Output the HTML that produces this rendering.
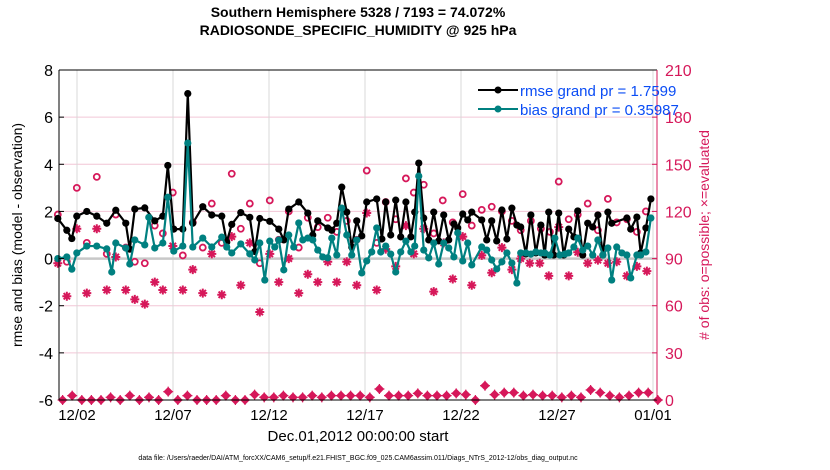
<!DOCTYPE html>
<html><head><meta charset="utf-8">
<style>
html,body{margin:0;padding:0;background:#fff;}
svg{display:block;font-family:"Liberation Sans",sans-serif;}
</style></head>
<body>
<svg id="chart" width="830" height="470" viewBox="0 0 830 470" xmlns="http://www.w3.org/2000/svg">
<text x="358" y="17" text-anchor="middle" font-size="14" font-weight="bold">Southern Hemisphere 5328 / 7193 = 74.072%</text>
<text x="358" y="35" text-anchor="middle" font-size="14" font-weight="bold">RADIOSONDE_SPECIFIC_HUMIDITY @ 925 hPa</text>
<g id="grid"></g>
<g id="marks"></g>
<g id="axes"></g>
<text transform="translate(22,235) rotate(-90)" text-anchor="middle" font-size="14">rmse and bias (model - observation)</text>
<text transform="translate(709,235) rotate(-90)" text-anchor="middle" font-size="14" fill="#d6185a">#  of obs: o=possible; ×=evaluated</text>
<text x="358" y="441" text-anchor="middle" font-size="15">Dec.01,2012 00:00:00 start</text>
<text x="358" y="460" text-anchor="middle" font-size="7">data file: /Users/raeder/DAI/ATM_forcXX/CAM6_setup/f.e21.FHIST_BGC.f09_025.CAM6assim.011/Diags_NTrS_2012-12/obs_diag_output.nc</text>
<g>
<line x1="478" y1="90" x2="518" y2="90" stroke="#000" stroke-width="2"/>
<circle cx="498" cy="90" r="3.5" fill="#000"/>
<text x="520" y="96" font-size="15" fill="#0a4cf5">rmse grand pr = 1.7599</text>
<line x1="478" y1="109" x2="518" y2="109" stroke="#008080" stroke-width="2"/>
<circle cx="498" cy="109" r="3.5" fill="#008080"/>
<text x="520" y="115" font-size="15" fill="#0a4cf5">bias grand pr = 0.35987</text>
</g>
</svg>
<script>
const xTickLabels=["12/02","12/07","12/12","12/17","12/22","12/27","01/01"];
const xTickDays=[1,6,11,16,21,26,31];
const yLeftTicks=[-6,-4,-2,0,2,4,6,8];
const yRightTicks=[0,30,60,90,120,150,180,210];
const rmseDays=[0,.47,.73,.99,1.51,2.03,2.55,3.02,3.54,3.75,4.01,4.53,5.05,5.47,5.73,6.04,6.51,6.77,7.03,7.55,8.02,8.54,8.8,9.06,9.53,10,10.26,10.52,11.04,11.51,11.77,12.03,12.55,13.02,13.28,13.54,14.06,14.27,14.53,14.79,15.05,15.31,15.57,15.83,16.09,16.61,16.88,17.08,17.34,17.6,17.86,18.13,18.39,18.59,18.8,19.06,19.32,19.58,19.84,20.1,20.36,20.63,20.83,21.09,21.35,21.56,22.08,22.34,22.6,22.86,23.13,23.39,23.65,23.91,24.11,24.38,24.64,24.9,25.16,25.36,25.57,25.83,26.09,26.35,26.61,26.88,27.08,27.34,27.6,27.86,28.13,28.39,28.65,28.85,29.64,29.84,30.16,30.36,30.63,30.89];
const rmseVals=[1.7,1.2,.85,1.8,2.0,1.8,1.5,2.05,1.5,.4,2.1,2.15,1.6,1.8,3.95,1.25,1.25,7.0,1.5,2.2,1.85,1.8,.7,1.45,1.95,1.75,.3,1.7,1.58,1.25,.79,2.1,2.4,1.93,1.0,1.6,1.3,1.2,1.5,3.03,1.97,.49,1.6,.96,2.4,2.53,.83,2.4,1.0,2.48,.92,2.4,.92,1.97,4.05,1.72,.79,1.97,.75,1.85,.79,1.47,1.3,1.89,1.64,1.97,1.64,.79,1.6,.75,2.06,.83,2.14,1.42,1.34,.2,1.85,.24,1.42,.15,1.97,.15,1.93,.15,1.25,.92,2.02,.15,1.5,1.34,1.85,.15,1.97,1.5,1.72,1.25,1.76,.24,1.3,2.53];
const biasDays=[0,.47,.73,.99,1.51,2.03,2.55,2.81,3.02,3.54,3.75,4.01,4.53,4.74,5.05,5.47,5.73,6.04,6.51,6.77,7.03,7.55,8.02,8.54,8.8,9.06,9.53,10,10.26,10.52,10.78,11.04,11.3,11.51,11.77,12.03,12.29,12.55,12.76,13.02,13.28,13.54,13.8,14.06,14.27,14.53,14.79,15.05,15.31,15.57,15.83,16.09,16.35,16.61,16.82,17.08,17.34,17.6,17.86,18.13,18.39,18.59,18.8,19.06,19.32,19.58,19.84,20.1,20.36,20.63,20.83,21.09,21.35,21.56,22.08,22.34,22.6,22.86,23.13,23.39,23.65,23.91,24.11,24.38,24.64,24.9,25.16,25.36,25.63,25.89,26.15,26.41,26.61,26.88,27.08,27.34,27.6,27.86,28.13,28.39,28.65,28.85,29.11,29.38,29.64,29.84,30.16,30.36,30.63,30.89];
const biasVals=[0,.07,-.45,.24,.53,.53,.41,-.57,.66,.45,-.23,.79,.58,1.75,.45,.66,2.6,.32,.53,4.9,.49,.87,.49,.91,.49,.24,.62,.2,-.06,.66,-.91,.74,.49,.79,-.48,1.0,.49,1.51,.79,.87,.79,.36,.07,.03,.87,.15,2.14,1.0,.15,.79,-.61,-.1,.28,1.3,.28,.53,.19,-.57,.28,.74,.28,.53,3.5,.36,.03,.66,-.23,.66,.45,.07,1.09,-.1,.66,-.27,.49,.36,-.06,-.44,-.14,.24,-.19,-1.04,.24,.24,.19,.28,.24,.24,.15,.87,.15,.19,.24,.49,.87,.36,.53,.15,.79,.15,.45,-.91,.49,.24,.15,-.82,.15,.15,.28,1.72];
const possDays=[0,.47,.99,1.51,2.03,2.55,3.02,3.54,4.01,4.53,5.05,5.47,5.99,6.51,7.03,7.55,8.02,8.54,9.06,9.53,10,10.52,11.04,11.51,12.03,12.55,13.02,13.54,14.06,14.53,15.05,15.57,16.09,16.61,17.08,17.6,18.13,18.54,19.06,19.58,20.05,20.57,21.09,21.56,22.08,22.6,23.13,23.65,24.11,24.64,25.16,25.63,26.09,26.61,27.08,27.6,28.13,28.65,29.11,29.64,30.16,30.63];
const possVals=[118,88,135,100,142,93,118,97,88,87,111,106,132,92,113,97,125,100,144,109,125,87,127,102,120,97,116,110,116,107,114,102,146,100,126,115,141,132,137,106,127,113,131,111,121,123,120,114,108,114,109,107,139,115,118,125,108,128,113,115,107,120];
const evalDays=[0,.47,.99,1.51,2.03,2.55,3.02,3.54,4.01,4.53,5.05,5.47,5.99,6.51,7.03,7.55,8.02,8.54,9.06,9.53,10,10.52,11.04,11.51,12.03,12.55,13.02,13.54,14.06,14.53,15.05,15.57,16.09,16.61,17.08,17.6,18.13,18.54,19.06,19.58,20.1,20.57,21.09,21.56,22.08,22.6,23.13,23.65,24.11,24.58,25.1,25.57,26.09,26.61,27.08,27.6,28.13,28.65,29.11,29.64,30.16,30.68];
const evalVals=[87,66,109,68,109,70,91,70,64,61,75,70,98,70,83,68,93,67,104,73,100,56,93,75,90,68,80,75,88,75,88,73,119,70,96,85,111,93,109,69,100,77,104,73,92,81,97,83,90,87,87,79,110,79,94,87,89,87,88,79,85,82];
const bottomVals=[0,2.8,0,0,0,1.7,0,2.8,0,1.7,0,5.3,0,2.8,0,0,0,2.8,0,0,3.4,1.7,1.7,2.8,1.7,1.7,2.8,1.7,2.8,2.8,2.8,2.8,1.7,7,2.8,2.8,2.8,4.2,2.8,2.8,2.8,4.2,3.4,0,9.1,3.4,4.7,4.7,2.8,3.4,2.8,2.8,1.7,2.8,1.7,6.4,4.7,2.8,1.7,2.8,4.7,4.7,0];

const NS="http://www.w3.org/2000/svg";
const L=59,R=657,T=70,B=400;
const X=d=>57.8+d*19.2;
const YL=v=>T+(8-v)*(B-T)/14;
const YR=v=>B-v*(B-T)/210;
const CR="#d6185a";
function mk(tag,attrs,parent){const e=document.createElementNS(NS,tag);for(const k in attrs)e.setAttribute(k,attrs[k]);parent.appendChild(e);return e;}
const grid=document.getElementById('grid'),marks=document.getElementById('marks'),axes=document.getElementById('axes');

yLeftTicks.forEach(v=>{
  const g=mk('line',{x1:L,x2:R,y1:YL(v),y2:YL(v),stroke:'#f2c6d6','stroke-width':1},grid);
  
  
  const t=mk('text',{x:L-6,y:YL(v)+6,'text-anchor':'end','font-size':16},axes);
  t.textContent=v;
  
  
  mk('line',{x1:L,x2:L+5,y1:YL(v),y2:YL(v),stroke:'#000'},axes);
});
yRightTicks.forEach(v=>{
  const t=mk('text',{x:R+8,y:YR(v)+6,'font-size':16,fill:CR},axes);
  t.textContent=v;
  
  
  mk('line',{x1:R-5,x2:R,y1:YR(v),y2:YR(v),stroke:CR},axes);
});
xTickDays.forEach((d,i)=>{
  const g=mk('line',{x1:X(d),x2:X(d),y1:T,y2:B,stroke:'#d8d8d8','stroke-width':1},grid);
  
  
  const t=mk('text',{x:X(d),y:B+20,'text-anchor':'middle','font-size':15},axes);
  t.textContent=xTickLabels[i];
  
  
});
const z=mk('line',{x1:L,x2:R,y1:YL(0),y2:YL(0),stroke:'#c8c8c8','stroke-width':2.5},grid);



// bottom series
bottomVals.forEach((v,i)=>{
  const cx=X(0.25+0.5*i),cy=YR(v);
  const p=mk('path',{d:`M${cx-4},${cy}L${cx},${cy-4}L${cx+4},${cy}L${cx},${cy+4}Z M${cx-5},${cy}H${cx+5} M${cx},${cy-5}V${cy+5}`,fill:CR,stroke:CR,'stroke-width':1.2},marks);
  
  
});
// evaluated stars
evalDays.forEach((d,i)=>{
  const cx=X(d),cy=YR(evalVals[i]);let s='';
  for(let k=0;k<4;k++){const a=k*Math.PI/4,dx=4.5*Math.cos(a),dy=4.5*Math.sin(a);s+=`M${cx-dx},${cy-dy}L${cx+dx},${cy+dy}`;}
  const p=mk('path',{d:s,stroke:CR,'stroke-width':2},marks);
  
  
});
// possible circles
possDays.forEach((d,i)=>{
  const c=mk('circle',{cx:X(d),cy:YR(possVals[i]),r:3,fill:'none',stroke:CR,'stroke-width':1.8},marks);
  
  
});
function series(days,vals,color,name){
  const pl=mk('polyline',{points:days.map((d,i)=>X(d)+','+YL(vals[i])).join(' '),fill:'none',stroke:color,'stroke-width':2.2,'stroke-linejoin':'round'},marks);
  
  
  days.forEach((d,i)=>{
    const c=mk('circle',{cx:X(d),cy:YL(vals[i]),r:3.6,fill:color},marks);
    
    
  });
}
series(rmseDays,rmseVals,'#000','rmse');
series(biasDays,biasVals,'#008080','bias');

mk('line',{x1:L,x2:R,y1:T,y2:T,stroke:'#000'},axes);
mk('line',{x1:L,x2:R,y1:B,y2:B,stroke:'#000'},axes);
mk('line',{x1:L,x2:L,y1:T,y2:B,stroke:'#000'},axes);
mk('line',{x1:R,x2:R,y1:T,y2:B,stroke:CR},axes);
</script>
</body></html>
